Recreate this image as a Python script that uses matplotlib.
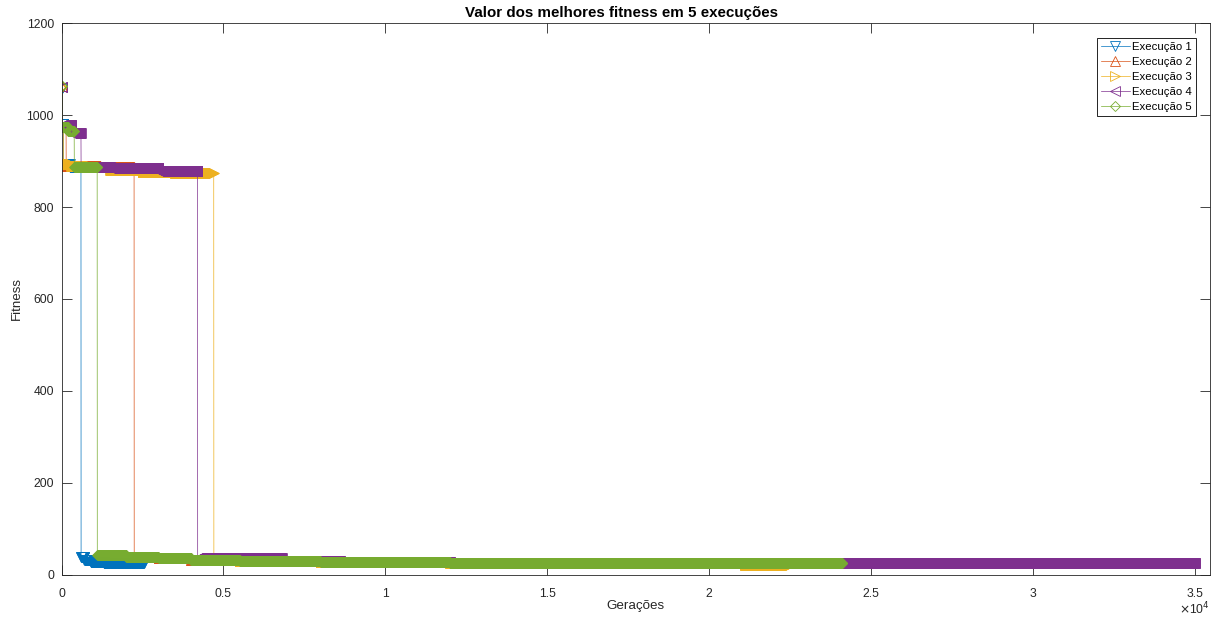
import numpy as np
import matplotlib
matplotlib.use("Agg")
import matplotlib.pyplot as plt

# ---- data: plateaus of best fitness (generation where each value starts) ----
labels = ["Execução 1", "Execução 2", "Execução 3", "Execução 4", "Execução 5"]

exec1_gen = [0, 20, 60, 250, 600, 700, 900, 1300, 1800]
exec1_fit = [1058, 980, 893, 886, 38, 33, 29, 27, 25]
exec1_end = 2550

exec2_gen = [0, 20, 140, 1200, 2240, 3000, 4000, 5500, 8000]
exec2_fit = [1062, 975, 890, 886, 40, 37, 33, 30, 28]
exec2_end = 10000

exec3_gen = [0, 20, 60, 300, 900, 1500, 2500, 3500, 4700, 5500, 8000, 12000, 21100]
exec3_fit = [1060, 975, 893, 890, 886, 880, 876, 874, 33, 30, 28, 25, 22]
exec3_end = 22500

exec4_gen = [0, 20, 300, 600, 1500, 3000, 4200, 6800, 8600, 12000]
exec4_fit = [1060, 978, 960, 887, 885, 879, 36, 31, 28, 25]
exec4_end = 35000

exec5_gen = [0, 20, 200, 390, 1100, 2000, 3000, 4000, 5500, 8000, 12000]
exec5_fit = [1062, 975, 965, 888, 43, 40, 37, 33, 30, 28, 25]
exec5_end = 24120

series = [
    (exec1_gen, exec1_fit, exec1_end),
    (exec2_gen, exec2_fit, exec2_end),
    (exec3_gen, exec3_fit, exec3_end),
    (exec4_gen, exec4_fit, exec4_end),
    (exec5_gen, exec5_fit, exec5_end),
]

colors = ["#0072BD", "#D95319", "#EDB120", "#7E2F8E", "#77AC30"]
markers = ["v", "^", ">", "<", "D"]
msizes = [7, 7, 7, 7, 5]

plt.rcParams["font.family"] = ["Liberation Sans", "DejaVu Sans"]

fig = plt.figure(figsize=(12.19, 6.22), dpi=100)
ax = fig.add_axes([0.0505, 0.0756, 0.9421, 0.8874])

axcol = "#262626"
for (gens, fits, end), c, m, ms, lab in zip(series, colors, markers, msizes, labels):
    bounds = list(gens) + [end]
    lengths = np.diff(bounds)
    y = np.repeat(np.asarray(fits, dtype=float), lengths)
    x = np.arange(len(y))
    ax.plot(x, y, color=c, lw=0.5, marker=m, ms=ms, mfc="none", mew=0.6,
            markevery=8, label=lab)

ax.set_xlim(0, 35460)
ax.set_ylim(0, 1200)
ax.set_yticks(np.arange(0, 1201, 200))
xt = np.arange(0, 35001, 5000)
ax.set_xticks(xt)
ax.set_xticklabels(["0", "0.5", "1", "1.5", "2", "2.5", "3", "3.5"])

for s in ax.spines.values():
    s.set_color(axcol)
    s.set_linewidth(0.6)
ax.tick_params(axis="both", direction="in", length=7.5, width=0.6, color=axcol,
               labelcolor=axcol, labelsize=8.7, top=True, right=True)
ax.tick_params(axis="x", pad=9.7)
ax.tick_params(axis="y", pad=5.5)

ax.set_title("Valor dos melhores fitness em 5 execuções", fontsize=10.9,
             fontweight="bold", pad=4, color="black", x=0.488)
ax.set_xlabel("Gerações", fontsize=9.6, color=axcol, labelpad=0)
ax.set_ylabel("Fitness", fontsize=9.6, color=axcol, labelpad=3)

ax.text(1.0, -0.062, r"$\times$10$^{4}$", transform=ax.transAxes, ha="right",
        va="center", fontsize=8.7, color=axcol)

leg = ax.legend(loc="upper right", bbox_to_anchor=(0.988, 0.973), fontsize=8.2,
                frameon=True, fancybox=False, framealpha=1, edgecolor="black",
                handlelength=2.6, handletextpad=0.2, labelspacing=0.45,
                borderpad=0.35, borderaxespad=0, numpoints=1)
leg.get_frame().set_linewidth(0.6)

fig.savefig("out.png", dpi=100)
